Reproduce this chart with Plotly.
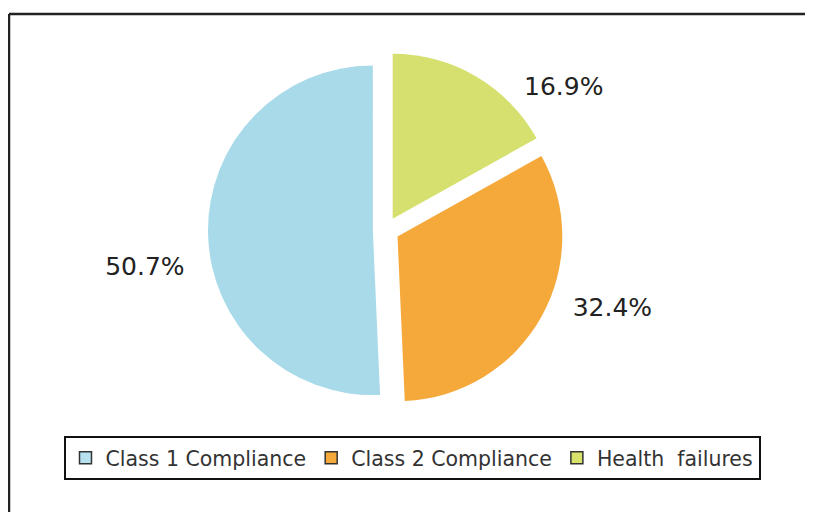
import plotly.graph_objects as go

labels = ["Class 1 Compliance", "Class 2 Compliance", "Health  failures"]
values = [50.7, 32.4, 16.9]
colors = ["#A8DAEA", "#F6A93B", "#D5E06F"]
legend_colors = ["#B6E2F0", "#F6A93B", "#D9E26B"]

# page body has an 8px margin; figure sized to fit the window
OFF = 8
W, H = 813 - 2 * OFF, 520 - 2 * OFF
ML, MR, MT, MB = 20, 61, 44, 104
PW, PH = W - ML - MR, H - MT - MB

def px_x(sx):
    return (sx - OFF - ML) / PW

def px_y(sy):
    return (H - MB - (sy - OFF)) / PH

# first slice starts at 12 o'clock, running counterclockwise
start_rot = 360 - 360 * values[0] / sum(values)

NB = "\u00a0"
# padding lines/spaces nudge the outside labels to where the original sets them
label_templates = [
    NB + "<br>" + NB + "<br>%{value}%",
    NB + NB + "%{value}%<br>" + NB,
    (NB + "<br>") * 5 + "%{value}%",
]

fig = go.Figure()
fig.add_trace(go.Pie(
    labels=labels,
    values=values,
    sort=False,
    direction="counterclockwise",
    rotation=start_rot,
    pull=[0.08, 0.08, 0.08],
    marker=dict(colors=colors, line=dict(width=0)),
    textposition="outside",
    texttemplate=label_templates,
    textfont=dict(family="DejaVu Sans", size=25, color="#222222"),
    showlegend=False,
    hoverinfo="label+percent",
))

for lab, col in zip(labels, legend_colors):
    fig.add_trace(go.Scatter(
        x=[None], y=[None], mode="markers", name=lab,
        marker=dict(symbol="square", size=12, color=col,
                    line=dict(color="#333333", width=1.5)),
    ))

fig.update_layout(
    width=W, height=H,
    margin=dict(l=ML, r=MR, t=MT, b=MB, autoexpand=False),
    paper_bgcolor="white",
    plot_bgcolor="white",
    xaxis=dict(visible=False),
    yaxis=dict(visible=False),
    legend=dict(
        orientation="h",
        xref="container", yref="container",
        x=(412 - OFF) / W, xanchor="center",
        y=1 - (436 - OFF) / H, yanchor="top",
        bordercolor="#111111", borderwidth=2,
        font=dict(family="DejaVu Sans", size=20.5, color="#333333"),
    ),
    shapes=[
        dict(type="line", xref="paper", yref="paper",
             x0=px_x(9), x1=px_x(813), y0=px_y(14), y1=px_y(14),
             line=dict(color="#222222", width=2.5)),
        dict(type="line", xref="paper", yref="paper",
             x0=px_x(9), x1=px_x(9), y0=px_y(14), y1=px_y(520),
             line=dict(color="#222222", width=2.5)),
    ],
)

fig.write_html("out.html")
